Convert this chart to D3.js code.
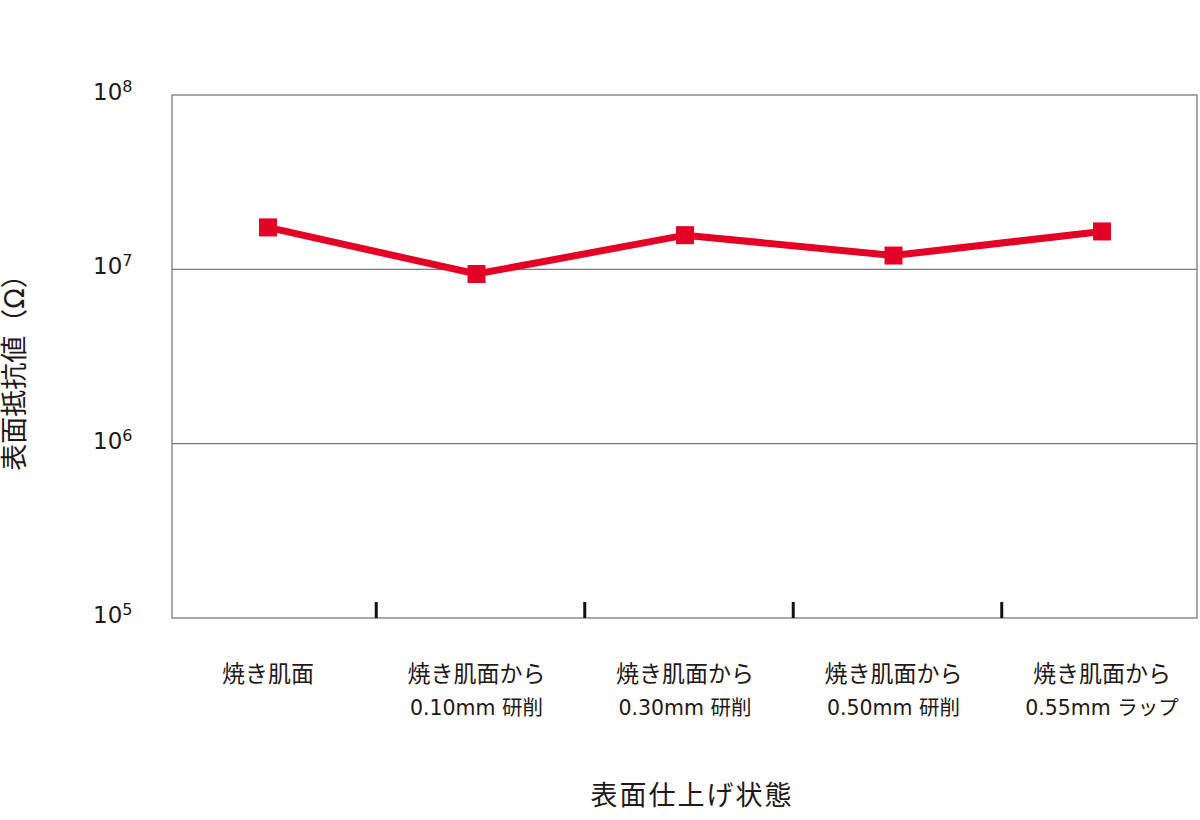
<!DOCTYPE html>
<html><head><meta charset="utf-8">
<script src="https://cdn.jsdelivr.net/npm/d3@7"></script>
<style>
body{margin:0;background:#fff;}
text{font-family:"DejaVu Sans","Noto Sans CJK JP",sans-serif;fill:#231815;}
</style></head>
<body><svg id="c" width="1200" height="820"></svg>
<script>
const categories = ["焼き肌面", "焼き肌面から", "焼き肌面から", "焼き肌面から", "焼き肌面から"];
const subLabels = ["", "0.10mm 研削", "0.30mm 研削", "0.50mm 研削", "0.55mm ラップ"];
const values = [1.74e7, 9.4e6, 1.57e7, 1.20e7, 1.65e7];
const yTickExps = [5, 6, 7, 8];
const yTitle = "表面抵抗値（Ω）";
const xTitle = "表面仕上げ状態";

const svg = d3.select("#c");
const L = 172, R = 1197, T = 95, B = 618;
const ids = categories.map((d,i)=>i);
const x = d3.scalePoint().domain(ids).range([268, 1102]);
const y = d3.scaleLog().domain([1e5, 1e8]).range([B, T]);
const red = "#e50025", gray = "#7a7a7a";

// gridlines
svg.append("g").selectAll("line").data(yTickExps.filter(e=>e>5 && e<8)).join("line")
  .attr("x1", L).attr("x2", R)
  .attr("y1", e=>y(Math.pow(10,e))).attr("y2", e=>y(Math.pow(10,e)))
  .attr("stroke", gray).attr("stroke-width", 1.3);

// frame
svg.append("rect").attr("x", L).attr("y", T).attr("width", R-L).attr("height", B-T)
  .attr("fill", "none").attr("stroke", gray).attr("stroke-width", 1.3);

// category separator ticks
const sep = ids.slice(1).map(i => (x(i-1)+x(i))/2 + 4);
svg.append("g").selectAll("line").data(sep).join("line")
  .attr("x1", d=>d).attr("x2", d=>d).attr("y1", B-16).attr("y2", B)
  .attr("stroke", "#111").attr("stroke-width", 3);

// y tick labels
const yl = svg.append("g").selectAll("text").data(yTickExps).join("text")
  .attr("x", 93).attr("y", e=>y(Math.pow(10,e))+5)
  .attr("font-size", 23);
yl.append("tspan").text("10");
yl.append("tspan").attr("font-size", 16).attr("dy", -8).text(e=>String(e));

// x labels
const xl = svg.append("g").selectAll("g").data(ids).join("g")
  .attr("transform", i=>`translate(${x(i)},0)`);
xl.append("text").attr("y", 682).attr("text-anchor","middle").attr("font-size", 23)
  .text(i=>categories[i]);
xl.append("text").attr("y", 715).attr("text-anchor","middle").attr("font-size", 20.5)
  .text(i=>subLabels[i]);

// line
svg.append("path").datum(ids)
  .attr("d", d3.line().x(i=>x(i)).y(i=>y(values[i])))
  .attr("fill","none").attr("stroke", red).attr("stroke-width", 7).attr("stroke-linejoin","miter");
svg.append("g").selectAll("rect").data(ids).join("rect")
  .attr("x", i=>x(i)-9).attr("y", i=>y(values[i])-9).attr("width", 18).attr("height", 18)
  .attr("fill", red);

// titles
svg.append("text").attr("x", 692).attr("y", 805).attr("text-anchor","middle")
  .attr("font-size", 27).attr("letter-spacing", 2).text(xTitle);
svg.append("text").attr("transform","translate(24,366) rotate(-90)").attr("text-anchor","middle")
  .attr("font-size", 27).text(yTitle);
</script></body></html>
